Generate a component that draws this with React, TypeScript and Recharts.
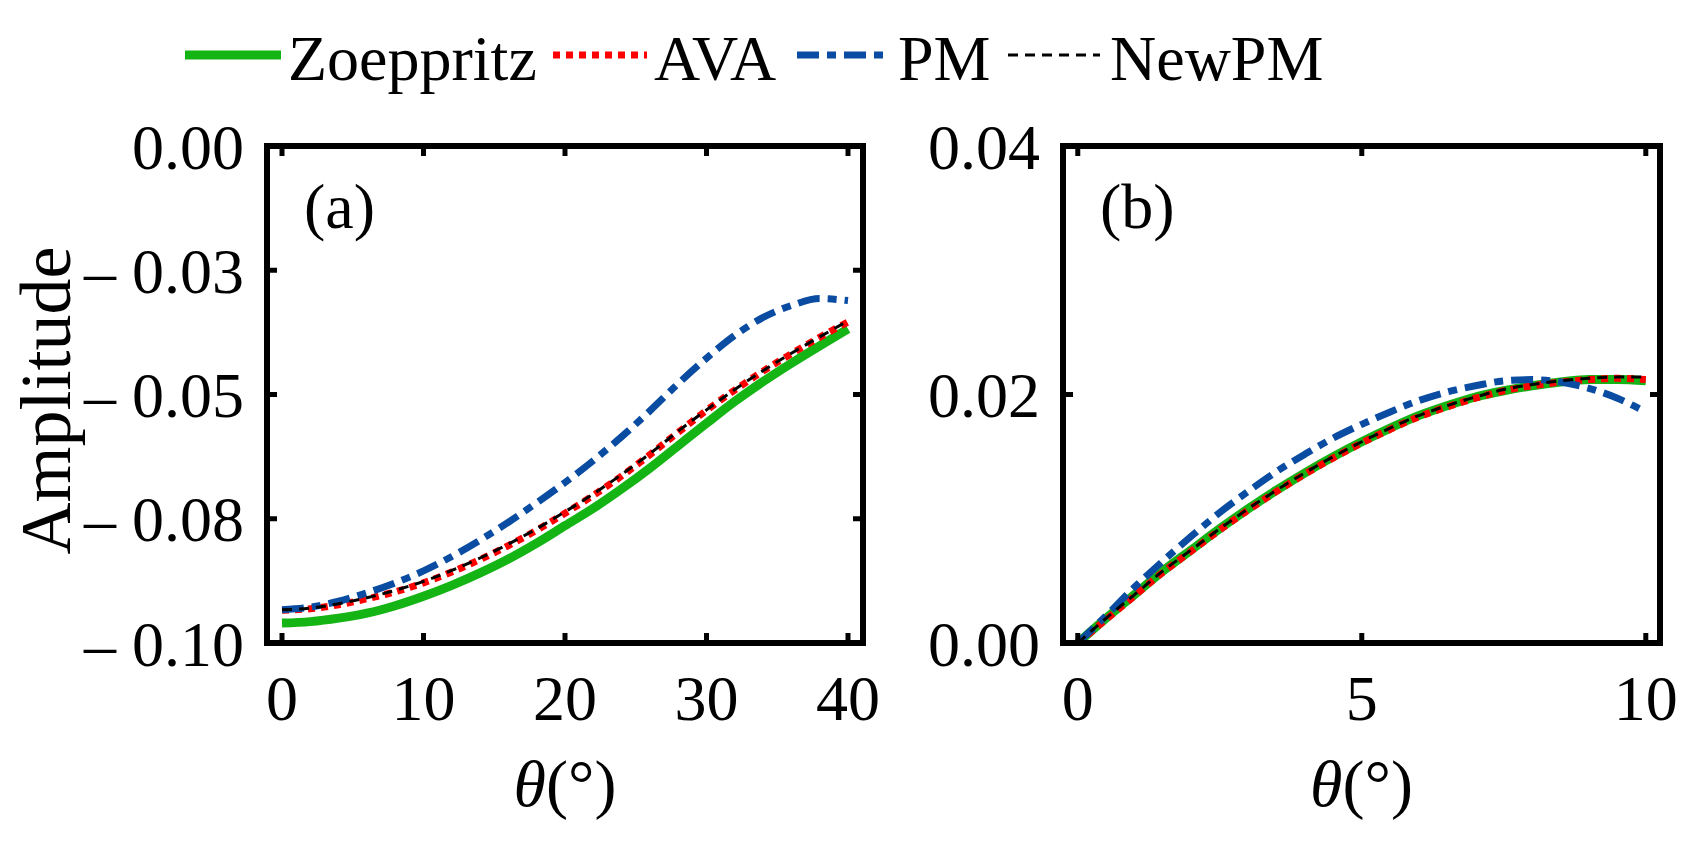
import { LineChart, Line, XAxis, YAxis } from "recharts";

// panel (a): 0-40 degrees
const thetaA = [0, 2, 4, 6, 8, 10, 12, 14, 16, 18, 20, 22, 24, 26, 28, 30, 32, 34, 36, 38, 40];
const zoeppritzA = [-0.096, -0.0957, -0.095, -0.094, -0.0925, -0.0906, -0.0884, -0.0859, -0.0831, -0.0799, -0.0764, -0.0729, -0.069, -0.0648, -0.0603, -0.0558, -0.0514, -0.0474, -0.0437, -0.0402, -0.0368];
const avaA = [-0.0934, -0.0931, -0.0923, -0.0911, -0.0897, -0.0879, -0.0857, -0.0832, -0.0804, -0.0773, -0.0739, -0.0703, -0.0664, -0.0621, -0.0576, -0.0532, -0.0491, -0.0453, -0.0418, -0.0385, -0.0354];
const pmA = [-0.0933, -0.0928, -0.0916, -0.0899, -0.0879, -0.0855, -0.0826, -0.0793, -0.0757, -0.0718, -0.0677, -0.0633, -0.0585, -0.0533, -0.0478, -0.0427, -0.0381, -0.0345, -0.0321, -0.0307, -0.0311];
const newPmA = [-0.0933, -0.093, -0.0921, -0.0909, -0.0894, -0.0876, -0.0854, -0.0829, -0.0801, -0.077, -0.0736, -0.07, -0.0661, -0.0619, -0.0574, -0.0531, -0.049, -0.0452, -0.0417, -0.0384, -0.0352];
const xTicksA = [0, 10, 20, 30, 40];
const yTicksA = [-0.1, -0.075, -0.05, -0.025, 0];
const yLabelsA = ["\u2013 0.10", "\u2013 0.08", "\u2013 0.05", "\u2013 0.03", "0.00"];

// panel (b): 0-10 degrees
const thetaB = [0, 0.5, 1, 1.5, 2, 2.5, 3, 3.5, 4, 4.5, 5, 5.5, 6, 6.5, 7, 7.5, 8, 8.5, 9, 9.5, 10];
const zoeppritzB = [0, 0.002, 0.0039, 0.0058, 0.0075, 0.0092, 0.0108, 0.0123, 0.0137, 0.015, 0.0162, 0.0173, 0.0183, 0.0191, 0.0198, 0.0203, 0.0207, 0.021, 0.0212, 0.0212, 0.0211];
const avaB = [0, 0.0019, 0.0038, 0.0057, 0.0074, 0.0091, 0.0107, 0.0122, 0.0136, 0.0149, 0.0161, 0.0172, 0.0182, 0.019, 0.0197, 0.0203, 0.0207, 0.021, 0.0212, 0.0213, 0.0212];
const pmB = [0, 0.0022, 0.0045, 0.0066, 0.0086, 0.0105, 0.0122, 0.0138, 0.0152, 0.0165, 0.0176, 0.0186, 0.0195, 0.0202, 0.0207, 0.0211, 0.0212, 0.021, 0.0205, 0.0197, 0.0186];
const newPmB = [0, 0.002, 0.0039, 0.0058, 0.0075, 0.0092, 0.0108, 0.0123, 0.0137, 0.015, 0.0162, 0.0173, 0.0183, 0.0191, 0.0198, 0.0204, 0.0208, 0.0211, 0.0213, 0.0214, 0.0214];
const xTicksB = [0, 5, 10];
const yTicksB = [0, 0.02, 0.04];
const yLabelsB = ["0.00", "0.02", "0.04"];

const FONT = "'Liberation Serif', 'Times New Roman', serif";
const H = 841;

const series = [
  { key: "zoe", name: "Zoeppritz", color: "#14b414", width: 9, dash: undefined },
  { key: "ava", name: "AVA", color: "#ff0000", width: 7, dash: "7 6" },
  { key: "pm", name: "PM", color: "#0a4ca1", width: 7, dash: "22 8 9 8" },
  { key: "newpm", name: "NewPM", color: "#000000", width: 3, dash: "10 7" },
];

const rowsA = thetaA.map((t, i) => ({ theta: t, zoe: zoeppritzA[i], ava: avaA[i], pm: pmA[i], newpm: newPmA[i] }));
const rowsB = thetaB.map((t, i) => ({ theta: t, zoe: zoeppritzB[i], ava: avaB[i], pm: pmB[i], newpm: newPmB[i] }));

const frame = { stroke: "#000", strokeWidth: 6, strokeLinecap: "square" };
const tickLine = { stroke: "#000", strokeWidth: 5 };
const tickFont = { fontSize: 64, fill: "#000", fontFamily: FONT };

const ThetaLabel = ({ viewBox }: any) => (
  <text x={viewBox.x + viewBox.width / 2} y={806} textAnchor="middle" fontSize={66} fontFamily={FONT} fill="#000">
    <tspan fontStyle="italic">θ</tspan>(°)
  </text>
);

const AmpLabel = ({ viewBox }: any) => {
  const x = 70;
  const y = viewBox.y + viewBox.height / 2 + 6;
  return (
    <text x={x} y={y} transform={`rotate(-90, ${x}, ${y})`} textAnchor="middle" fontSize={72} fontFamily={FONT} fill="#000">
      Amplitude
    </text>
  );
};

function Panel({ rows, left, width, plotLeft, plotRight, xDomain, xTicks, yDomain, yTicks, yLabels, ylabel }: any) {
  return (
    <div style={{ position: "absolute", left, top: 0 }}>
      <LineChart
        width={width}
        height={H}
        data={rows}
        margin={{ top: 145, right: width - (plotRight - left) - 1, bottom: 0, left: 0 }}
      >
        <XAxis
          xAxisId="b"
          dataKey="theta"
          type="number"
          domain={xDomain}
          ticks={xTicks}
          interval={0}
          allowDataOverflow
          height={198}
          tickSize={-10}
          tickMargin={42}
          axisLine={frame}
          tickLine={tickLine}
          tick={tickFont}
          label={<ThetaLabel />}
        />
        <XAxis
          xAxisId="t"
          orientation="top"
          dataKey="theta"
          type="number"
          domain={xDomain}
          ticks={xTicks}
          interval={0}
          allowDataOverflow
          height={1}
          tickSize={-10}
          axisLine={frame}
          tickLine={tickLine}
          tick={() => <g />}
        />
        <YAxis
          yAxisId="l"
          type="number"
          domain={yDomain}
          ticks={yTicks}
          interval={0}
          allowDataOverflow
          width={plotLeft - left}
          tickSize={-10}
          tickMargin={33}
          axisLine={frame}
          tickLine={tickLine}
          tick={tickFont}
          tickFormatter={(v: number) => yLabels[yTicks.indexOf(v)]}
          label={ylabel ? <AmpLabel /> : undefined}
        />
        <YAxis
          yAxisId="r"
          orientation="right"
          type="number"
          domain={yDomain}
          ticks={yTicks}
          interval={0}
          allowDataOverflow
          width={1}
          tickSize={-10}
          axisLine={frame}
          tickLine={tickLine}
          tick={() => <g />}
        />
        {series.map((s) => (
          <Line
            key={s.key}
            xAxisId="b"
            yAxisId="l"
            type="monotone"
            dataKey={s.key}
            name={s.name}
            stroke={s.color}
            strokeWidth={s.width}
            strokeDasharray={s.dash}
            dot={false}
            activeDot={false}
            isAnimationActive={false}
          />
        ))}
      </LineChart>
    </div>
  );
}

const legendPos = [
  { x1: 185, x2: 281, tx: 288 },
  { x1: 553, x2: 647, tx: 654 },
  { x1: 797, x2: 891, tx: 898 },
  { x1: 1008, x2: 1100, tx: 1110 },
];

export default function App() {
  return (
    <div style={{ position: "absolute", left: 0, top: 0, width: 1704, height: H, background: "#fff", fontFamily: FONT }}>
      <Panel
        rows={rowsA}
        left={0}
        width={900}
        plotLeft={267}
        plotRight={863}
        xDomain={[-1.06, 41.06]}
        xTicks={xTicksA}
        yDomain={[-0.1, 0]}
        yTicks={yTicksA}
        yLabels={yLabelsA}
        ylabel
      />
      <Panel
        rows={rowsB}
        left={900}
        width={804}
        plotLeft={1063}
        plotRight={1660}
        xDomain={[-0.26, 10.25]}
        xTicks={xTicksB}
        yDomain={[0, 0.04]}
        yTicks={yTicksB}
        yLabels={yLabelsB}
      />
      <svg width={1704} height={H} style={{ position: "absolute", left: 0, top: 0, pointerEvents: "none" }}>
        {series.map((s, i) => (
          <g key={s.key}>
            <line x1={legendPos[i].x1} x2={legendPos[i].x2} y1={55} y2={55} stroke={s.color} strokeWidth={s.width} strokeDasharray={s.dash} />
            <text x={legendPos[i].tx} y={80} fontSize={64} fontFamily={FONT} fill="#000">
              {s.name}
            </text>
          </g>
        ))}
        <text x={304} y={228} fontSize={64} fontFamily={FONT} fill="#000">(a)</text>
        <text x={1100} y={228} fontSize={64} fontFamily={FONT} fill="#000">(b)</text>
      </svg>
    </div>
  );
}
